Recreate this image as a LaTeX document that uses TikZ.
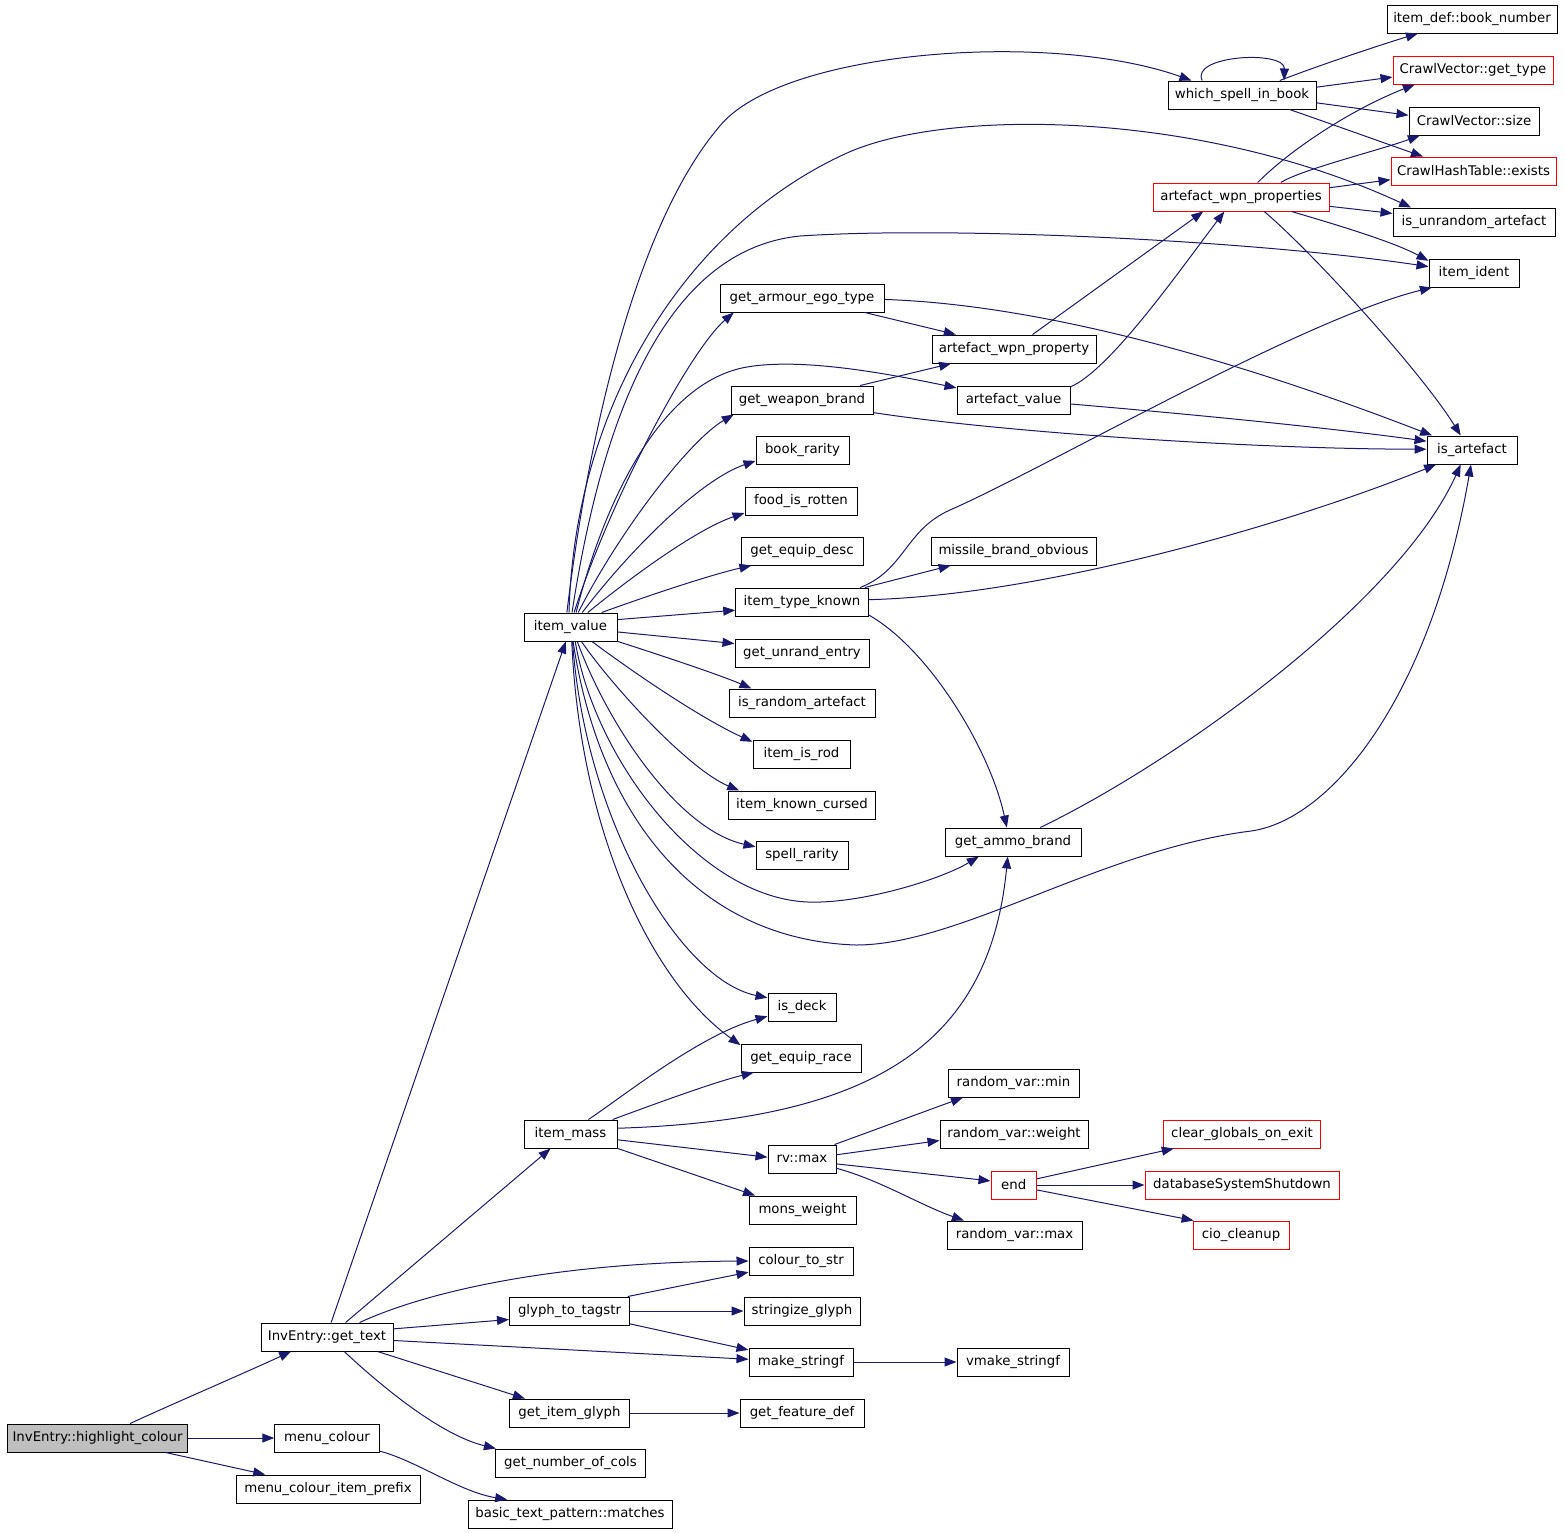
\documentclass[tikz,border=0pt]{standalone}
\usepackage{fontspec}
\setmainfont{DejaVu Sans}
\usepackage{tikz}
\usetikzlibrary{arrows.meta}
\definecolor{edgeblue}{HTML}{191970}
\definecolor{boxred}{HTML}{FF0000}
\definecolor{rootgray}{HTML}{BFBFBF}

\begin{document}
\begin{tikzpicture}[x=1pt,y=1pt,yscale=-1,xscale=1,
  fn/.style={draw=black, line width=1pt, fill=white, inner sep=0pt, minimum height=28pt, font=\fontsize{13.3}{16}\selectfont},
  fnred/.style={fn, draw=boxred},
  fnroot/.style={fn, fill=rootgray},
  call/.style={draw=edgeblue, line width=1pt, -{Triangle[length=12pt,width=9pt]}}]
\useasboundingbox (0,0) rectangle (1565,1532);

% Text Node
\node[fnroot, minimum width=180pt] (hl) at (97.5,1438) {InvEntry::highlight\_colour};
\node[fn, minimum width=132pt] (gt) at (327,1337) {InvEntry::get\_text};
\node[fn, minimum width=104.5pt] (mc) at (327,1438) {menu\_colour};
\node[fn, minimum width=184pt] (mcip) at (328,1489) {menu\_colour\_item\_prefix};
\node[fn, minimum width=204pt] (btm) at (570,1514) {basic\_text\_pattern::matches};
\node[fn, minimum width=150pt] (gnc) at (570.5,1463) {get\_number\_of\_cols};
\node[fn, minimum width=120pt] (gig) at (569.5,1413) {get\_item\_glyph};
\node[fn, minimum width=120pt] (g2t) at (569.5,1311) {glyph\_to\_tagstr};
\node[fn, minimum width=93pt] (im) at (570.5,1134) {item\_mass};
\node[fn, minimum width=93pt] (iv) at (570.5,627) {item\_value};

% Text Node
\node[fn, minimum width=104pt] (c2s) at (801,1261) {colour\_to\_str};
\node[fn, minimum width=116pt] (sg) at (802,1311) {stringize\_glyph};
\node[fn, minimum width=104pt] (ms) at (801,1362) {make\_stringf};
\node[fn, minimum width=124pt] (gfd) at (802,1413) {get\_feature\_def};
\node[fn, minimum width=112pt] (vms) at (1013,1362) {vmake\_stringf};
\node[fn, minimum width=107pt] (mw) at (802.5,1210) {mons\_weight};
\node[fn, minimum width=68pt] (rvx) at (802,1159) {rv::max};
\node[fn, minimum width=131pt] (rvmin) at (1013.5,1083) {random\_var::min};
\node[fn, minimum width=148pt] (rvw) at (1014,1134) {random\_var::weight};
\node[fnred, minimum width=45.5pt] (endn) at (1013.75,1185) {end};
\node[fn, minimum width=135pt] (rvmax) at (1014.5,1235) {random\_var::max};
\node[fnred, minimum width=157.5pt] (cgoe) at (1242,1134) {clear\_globals\_on\_exit};
\node[fnred, minimum width=194pt] (dss) at (1242,1185) {databaseSystemShutdown};
\node[fnred, minimum width=96pt] (cio) at (1241,1235) {cio\_cleanup};

% Text Node
\node[fn, minimum width=68pt] (isd) at (802,1007) {is\_deck};
\node[fn, minimum width=120pt] (ger) at (801,1058) {get\_equip\_race};
\node[fn, minimum width=136pt] (gab) at (1013,842) {get\_ammo\_brand};
\node[fn, minimum width=92pt] (sr) at (802,855) {spell\_rarity};
\node[fn, minimum width=147.5pt] (ikc) at (802,805) {item\_known\_cursed};
\node[fn, minimum width=97pt] (iir) at (801.5,754) {item\_is\_rod};
\node[fn, minimum width=146pt] (ira) at (802,703) {is\_random\_artefact};
\node[fn, minimum width=134pt] (gue) at (802,653) {get\_unrand\_entry};
\node[fn, minimum width=132.5pt] (itk) at (802,602) {item\_type\_known};
\node[fn, minimum width=122pt] (ged) at (802,551) {get\_equip\_desc};
\node[fn, minimum width=112pt] (fir) at (801,501) {food\_is\_rotten};
\node[fn, minimum width=93pt] (br) at (802.5,450) {book\_rarity};
\node[fn, minimum width=142pt] (gwb) at (802,400) {get\_weapon\_brand};
\node[fn, minimum width=164pt] (gaet) at (802,298) {get\_armour\_ego\_type};
\node[fn, minimum width=164pt] (awp) at (1014,349) {artefact\_wpn\_property};
\node[fn, minimum width=113pt] (av) at (1013.5,400) {artefact\_value};
\node[fn, minimum width=165pt] (mbo) at (1013.5,551) {missile\_brand\_obvious};

% Text Node
\node[fnred, minimum width=176pt] (awps) at (1241,197) {artefact\_wpn\_properties};
\node[fn, minimum width=148pt] (wsib) at (1242,95) {which\_spell\_in\_book};
\node[fn, minimum width=170pt] (bn) at (1472,19) {item\_def::book\_number};
\node[fnred, minimum width=160pt] (cvgt) at (1473,70) {CrawlVector::get\_type};
\node[fn, minimum width=130pt] (cvs) at (1474,121) {CrawlVector::size};
\node[fnred, minimum width=165pt] (chte) at (1473.5,171) {CrawlHashTable::exists};
\node[fn, minimum width=162pt] (iua) at (1474,222) {is\_unrandom\_artefact};
\node[fn, minimum width=90pt] (ii) at (1474,273) {item\_ident};
\node[fn, minimum width=90pt] (ia) at (1472,450) {is\_artefact};

% Calls from highlight_colour and get_text
\draw[call] (hl.24) .. controls (170,1405) and (240,1375) .. (gt.-158);
\draw[call] (hl.east) -- (mc.west);
\draw[call] (hl.-12) -- (mcip.167);
\draw[call] (mc.-14) .. controls (415,1460) and (460,1492) .. (btm.167);
\draw[call] (gt.74) -- (iv.-108);
\draw[call] (gt.38) -- (im.-144);
\draw[call] (gt.24) .. controls (430,1290) and (560,1262) .. (c2s.west);
\draw[call] (gt.7) -- (g2t.188);
\draw[call] (gt.-3) -- (ms.177);
\draw[call] (gt.-16) -- (gig.162);
\draw[call] (gt.-40) .. controls (380,1385) and (440,1435) .. (gnc.169);
\draw[call] (g2t.14) -- (c2s.192);
\draw[call] (g2t.east) -- (sg.west);
\draw[call] (g2t.-12) -- (ms.167);
\draw[call] (ms.east) -- (vms.west);
\draw[call] (gig.east) -- (gfd.west);

% Calls from item_mass
\draw[call] (im.39) .. controls (625,1095) and (700,1035) .. (isd.195);
\draw[call] (im.19) .. controls (660,1102) and (715,1082) .. (ger.-163);
\draw[call] (im.7) .. controls (880,1120) and (990,1040) .. (gab.-110);
\draw[call] (im.-7) -- (rvx.177);
\draw[call] (im.-17) -- (mw.163);
\draw[call] (rvx.24) -- (rvmin.-164);
\draw[call] (rvx.7) -- (rvw.185);
\draw[call] (rvx.-8) -- (endn.170);
\draw[call] (rvx.-15) .. controls (880,1180) and (920,1205) .. (rvmax.164);
\draw[call] (endn.15) -- (cgoe.-168);
\draw[call] (endn.east) -- (dss.west);
\draw[call] (endn.-12) -- (cio.163);

% Calls from item_value
\draw[call] (iv.104) .. controls (590,420) and (640,220) .. (719,127) .. controls (780,50) and (1050,30) .. (wsib.164);
\draw[call] (iv.96) .. controls (575,400) and (690,224) .. (847,153) .. controls (947,108) and (1200,110) .. (iua.167);
\draw[call] (iv.84) .. controls (600,430) and (660,250) .. (800,236) .. controls (950,226) and (1250,240) .. (ii.172);
\draw[call] (iv.76) .. controls (610,500) and (690,350) .. (gaet.-168);
\draw[call] (iv.69) .. controls (610,480) and (670,380) .. (747,367) .. controls (800,358) and (880,372) .. (av.168);
\draw[call] (iv.62) .. controls (620,530) and (690,440) .. (gwb.-168);
\draw[call] (iv.51) .. controls (630,550) and (700,480) .. (br.-167);
\draw[call] (iv.40) .. controls (640,570) and (700,528) .. (fir.-168);
\draw[call] (iv.25) .. controls (650,595) and (710,575) .. (ged.-164);
\draw[call] (iv.9) -- (itk.-173);
\draw[call] (iv.-6) -- (gue.172);
\draw[call] (iv.-17) .. controls (660,655) and (720,675) .. (ira.164);
\draw[call] (iv.-34) .. controls (630,670) and (700,718) .. (iir.166);
\draw[call] (iv.-53) .. controls (615,690) and (690,770) .. (ikc.167);
\draw[call] (iv.-65) .. controls (610,730) and (680,830) .. (sr.170);
\draw[call] (iv.-72) .. controls (595,760) and (700,898) .. (808,902) .. controls (860,904) and (940,880) .. (gab.-157);
\draw[call] (iv.-80) .. controls (600,820) and (700,940) .. (856,945) .. controls (960,945) and (1100,850) .. (1251,831) .. controls (1330,820) and (1430,700) .. (ia.-94);
\draw[call] (iv.-82) .. controls (585,820) and (680,980) .. (isd.165);
\draw[call] (iv.-85) .. controls (580,830) and (650,980) .. (ger.168);

% Calls from the middle column
\draw[call] (gaet.-13) -- (awp.166);
\draw[call] (gaet.-1) .. controls (1050,305) and (1250,365) .. (ia.160);
\draw[call] (gwb.14) -- (awp.-167);
\draw[call] (gwb.-10) .. controls (1000,432) and (1250,449) .. (ia.179);
\draw[call] (awp.38) -- (awps.-159);
\draw[call] (av.13) .. controls (1110,370) and (1180,270) .. (awps.-139);
\draw[call] (av.-4) .. controls (1200,415) and (1330,428) .. (ia.169);
\draw[call] (itk.13) -- (mbo.-167);
\draw[call] (itk.14) .. controls (905,570) and (905,530) .. (950,510) .. controls (1050,466) and (1300,320) .. (ii.-161);
\draw[call] (itk.2) .. controls (1050,595) and (1300,520) .. (ia.-158);
\draw[call] (itk.-11) .. controls (930,650) and (990,750) .. (gab.113);
\draw[call] (gab.28) .. controls (1180,760) and (1400,600) .. (ia.-128);

% Calls from artefact_wpn_properties and which_spell_in_book
\draw[call] (awps.41) .. controls (1290,150) and (1350,110) .. (cvgt.-166);
\draw[call] (awps.20) .. controls (1300,170) and (1380,150) .. (cvs.-165);
\draw[call] (awps.6) -- (chte.-174);
\draw[call] (awps.-6) -- (iua.174);
\draw[call] (awps.-16) .. controls (1320,220) and (1390,240) .. (ii.165);
\draw[call] (awps.-32) .. controls (1310,250) and (1420,370) .. (ia.128);
\draw[call] (wsib.160) .. controls (1190,55) and (1285,50) .. (wsib.19);
\draw[call] (wsib.21) .. controls (1320,65) and (1380,45) .. (bn.-165);
\draw[call] (wsib.6) -- (cvgt.-175);
\draw[call] (wsib.-6) -- (cvs.175);
\draw[call] (wsib.-17) .. controls (1320,120) and (1390,145) .. (chte.164);

\end{tikzpicture}
\end{document}
